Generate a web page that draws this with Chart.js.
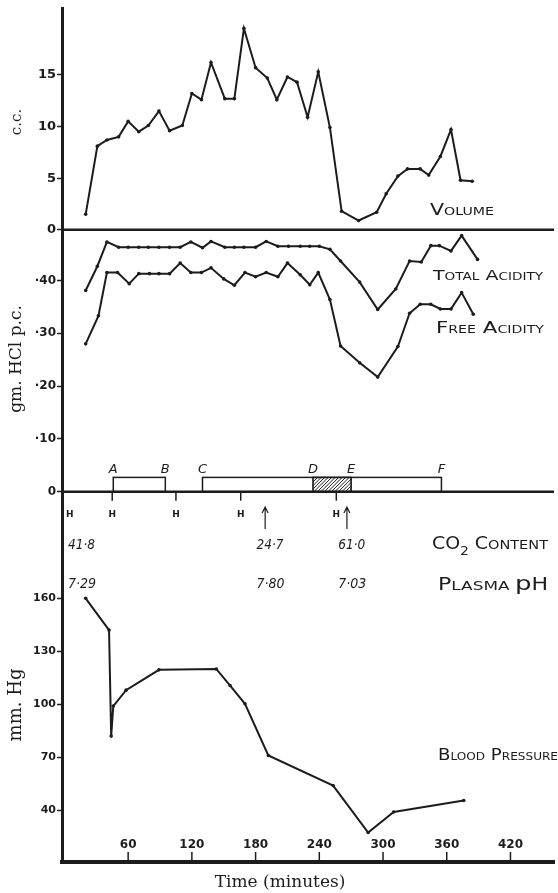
<!DOCTYPE html>
<html>
<head>
<meta charset="utf-8">
<script src="https://cdn.jsdelivr.net/npm/chart.js@4.4.1/dist/chart.umd.min.js"></script>
<style>
  html, body { margin: 0; padding: 0; background: #fff; }
  #wrap { width: 558px; height: 893px; }
</style>
</head>
<body>
<div id="wrap"><canvas id="chart" width="558" height="893"></canvas></div>
<script>
// Gastric secretion record - volume, acidity and blood pressure against time

// Volume of secretion (c.c.)
const volTimes = [20, 31, 40, 51, 60, 70, 79, 89, 99, 111, 120, 129, 138, 151, 160, 169, 180, 191, 200, 210, 219, 229, 239, 250, 261, 277, 294, 303, 314, 323, 335, 343, 354, 364, 373, 384];
const volValues = [1.5, 8.1, 8.7, 9.0, 10.5, 9.5, 10.1, 11.5, 9.6, 10.1, 13.2, 12.6, 16.2, 12.7, 12.7, 19.5, 15.7, 14.7, 12.6, 14.8, 14.3, 10.9, 15.3, 9.9, 1.8, 0.9, 1.7, 3.5, 5.2, 5.9, 5.9, 5.3, 7.1, 9.7, 4.8, 4.7];

// Acidity (gm. HCl p.c.)
const acidTimes = [20, 31, 40, 51, 60, 70, 79, 89, 99, 109, 119, 130, 138, 151, 160, 169, 180, 190, 201, 211, 222, 231, 240, 250, 260, 278, 295, 312, 325, 336, 345, 353, 364, 374, 389];
const totalAcidity = [0.381, 0.427, 0.473, 0.463, 0.463, 0.463, 0.463, 0.463, 0.463, 0.463, 0.473, 0.462, 0.474, 0.463, 0.463, 0.463, 0.463, 0.474, 0.465, 0.465, 0.465, 0.465, 0.465, 0.459, 0.437, 0.397, 0.345, 0.384, 0.437, 0.435, 0.466, 0.466, 0.456, 0.485, 0.44];
const freeTimes = [20, 32, 40, 50, 61, 70, 80, 89, 99, 109, 119, 129, 138, 150, 160, 170, 180, 190, 201, 210, 222, 231, 239, 250, 260, 278, 295, 314, 325, 335, 345, 354, 364, 374, 385];
const freeAcidity = [0.280, 0.333, 0.415, 0.415, 0.394, 0.413, 0.413, 0.413, 0.413, 0.433, 0.415, 0.415, 0.424, 0.403, 0.391, 0.415, 0.407, 0.415, 0.407, 0.433, 0.411, 0.392, 0.415, 0.364, 0.276, 0.244, 0.217, 0.275, 0.338, 0.355, 0.355, 0.346, 0.346, 0.377, 0.336];

// Blood pressure (mm. Hg)
const bpTimes = [20, 42, 44, 46, 58, 89, 143, 156, 170, 192, 253, 286, 310, 376];
const bpValues = [160, 142, 82, 99, 108, 119.5, 120, 110.6, 100.3, 71, 54, 27.4, 39, 45.5];

// Tick labels
const timeTicks = [60, 120, 180, 240, 300, 360, 420];
const volTicks = [0, 5, 10, 15];
const acidTicks = [0, 0.1, 0.2, 0.3, 0.4];
const bpTicks = [40, 70, 100, 130, 160];

// Periods marked under the acidity curves (D-E hatched)
const periodLetters = ['A', 'B', 'C', 'D', 'E', 'F'];
const periodTimes = [46, 95, 130, 234, 270, 355];

// Blood samples
const hTimes = [5, 45, 105, 166, 256];
const arrowTimes = [189, 266];
const sampleTimes = [1.5, 179, 256];
const co2Content = ['41·8', '24·7', '61·0'];
const plasmaPh = ['7·29', '7·80', '7·03'];

const ink = '#1c1c1c';
const hand = '"DejaVu Sans", sans-serif';
const serif = '"DejaVu Serif", "Liberation Serif", serif';

function toPoints(xs, ys) {
    return xs.map((x, i) => ({ x: x, y: ys[i] }));
}

function fixedTicks(values) {
    return function (scale) {
        scale.ticks = values.map(v => ({ value: v }));
    };
}

// draws lettering made of parts [text, size, dy], stretched to a width
function lettering(ctx, parts, x, y, width, italic) {
    let natural = 0;
    const sized = parts.map(p => {
        ctx.font = (italic ? 'italic ' : '') + p[1] + 'px ' + hand;
        const w = ctx.measureText(p[0]).width;
        natural += w;
        return { text: p[0], size: p[1], dy: p[2] || 0, w: w };
    });
    ctx.save();
    ctx.translate(x, y);
    ctx.scale(width / natural, 1);
    let cx = 0;
    sized.forEach(p => {
        ctx.font = (italic ? 'italic ' : '') + p.size + 'px ' + hand;
        ctx.fillText(p.text, cx, p.dy);
        cx += p.w;
    });
    ctx.restore();
}

function smallCaps(text, big, small) {
    const parts = [];
    text.split(' ').forEach((word, i) => {
        parts.push([(i > 0 ? ' ' : '') + word[0], big]);
        parts.push([word.slice(1), small]);
    });
    return parts;
}

const annotations = {
    id: 'annotations',
    afterDatasetsDraw(chart) {
        const ctx = chart.ctx;
        const x = chart.scales.x;
        const vol = chart.scales.vol;
        const acid = chart.scales.acid;
        const area = chart.chartArea;
        ctx.save();
        ctx.strokeStyle = ink;
        ctx.fillStyle = ink;
        ctx.textBaseline = 'alphabetic';

        // panel dividers
        ctx.lineWidth = 2.5;
        [vol.getPixelForValue(0), acid.getPixelForValue(0)].forEach(py => {
            ctx.beginPath();
            ctx.moveTo(area.left, py);
            ctx.lineTo(area.right, py);
            ctx.stroke();
        });

        // period boxes
        const boxBottom = acid.getPixelForValue(0);
        const boxTop = acid.getPixelForValue(0.027);
        const px = periodTimes.map(t => x.getPixelForValue(t));
        ctx.lineWidth = 1.5;
        ctx.strokeRect(px[0], boxTop, px[1] - px[0], boxBottom - boxTop);
        ctx.strokeRect(px[2], boxTop, px[5] - px[2], boxBottom - boxTop);
        ctx.save();
        ctx.beginPath();
        ctx.rect(px[3], boxTop, px[4] - px[3], boxBottom - boxTop);
        ctx.clip();
        ctx.lineWidth = 1;
        for (let s = px[3] - 20; s < px[4] + 20; s += 3.5) {
            ctx.moveTo(s, boxBottom);
            ctx.lineTo(s + (boxBottom - boxTop), boxTop);
        }
        ctx.stroke();
        ctx.restore();
        ctx.strokeRect(px[3], boxTop, px[4] - px[3], boxBottom - boxTop);
        ctx.textAlign = 'center';
        ctx.font = 'italic 13px ' + hand;
        periodLetters.forEach((l, i) => ctx.fillText(l, px[i], boxTop - 4));

        // sample marks
        ctx.font = 'bold 9px ' + hand;
        ctx.lineWidth = 1.5;
        hTimes.forEach((t, i) => {
            const hx = x.getPixelForValue(t);
            if (i > 0) {
                ctx.beginPath();
                ctx.moveTo(hx, boxBottom);
                ctx.lineTo(hx, boxBottom + 9);
                ctx.stroke();
            }
            ctx.fillText('H', hx, 517);
        });
        ctx.lineWidth = 1.2;
        arrowTimes.forEach(t => {
            const ax = x.getPixelForValue(t);
            ctx.beginPath();
            ctx.moveTo(ax, 529);
            ctx.lineTo(ax, 508);
            ctx.moveTo(ax - 3, 513);
            ctx.lineTo(ax, 507);
            ctx.lineTo(ax + 3, 513);
            ctx.stroke();
        });
        ctx.textAlign = 'left';
        ctx.font = 'italic 13px ' + hand;
        sampleTimes.forEach((t, i) => {
            const sx = x.getPixelForValue(t);
            lettering(ctx, [[co2Content[i], 14]], sx + 2, 549, 27, true);
            lettering(ctx, [[plasmaPh[i], 14]], sx + 2, 588, 28, true);
        });

        // series labels
        lettering(ctx, smallCaps('VOLUME', 16, 11), 430, 215, 64);
        lettering(ctx, smallCaps('TOTAL ACIDITY', 14, 10), 433, 280, 110);
        lettering(ctx, smallCaps('FREE ACIDITY', 15, 10), 436, 333, 108);
        lettering(ctx, smallCaps('BLOOD PRESSURE', 15, 10), 438, 760, 120);
        lettering(ctx, [['CO', 17], ['2', 12, 6], [' C', 17], ['ONTENT', 13]], 432, 549, 116);
        lettering(ctx, [['P', 17], ['LASMA ', 13], ['p', 20], ['H', 17]], 438, 590, 110);

        // time ticks inside the bottom axis
        ctx.textAlign = 'center';
        ctx.font = 'bold 12px ' + hand;
        ctx.lineWidth = 1.5;
        timeTicks.forEach(t => {
            const tx = x.getPixelForValue(t);
            ctx.beginPath();
            ctx.moveTo(tx, area.bottom);
            ctx.lineTo(tx, area.bottom - 10);
            ctx.stroke();
            ctx.fillText(String(t), tx, area.bottom - 14);
        });

        // axis titles
        ctx.font = '17px ' + serif;
        ctx.fillText('Time (minutes)', 280, 887);
        [['c.c.', 122, 15], ['gm. HCl p.c.', 359, 17], ['mm. Hg', 705, 18]].forEach(a => {
            ctx.save();
            ctx.translate(21, a[1]);
            ctx.rotate(-Math.PI / 2);
            ctx.font = a[2] + 'px ' + serif;
            ctx.fillText(a[0], 0, 0);
            ctx.restore();
        });
        ctx.restore();
    }
};

const lineStyle = {
    borderColor: ink,
    backgroundColor: ink,
    borderWidth: 2,
    pointRadius: 1.8,
    pointBackgroundColor: ink,
    pointBorderWidth: 0,
    tension: 0,
    fill: false
};

function yAxis(min, max, ticks, weight, size, format) {
    return {
        type: 'linear',
        position: 'left',
        stack: 'panels',
        stackWeight: weight,
        min: min,
        max: max,
        afterBuildTicks: fixedTicks(ticks),
        afterFit(scale) { scale.width = 62; },
        border: { color: ink, width: 3 },
        grid: { drawOnChartArea: false, drawTicks: true, tickLength: 5, tickColor: ink, tickWidth: 1.5 },
        ticks: {
            color: ink,
            padding: 1,
            font: { family: 'DejaVu Sans', size: size, weight: 'bold' },
            callback: format
        }
    };
}

new Chart(document.getElementById('chart'), {
    type: 'line',
    data: {
        datasets: [
            Object.assign({ label: 'Volume', data: toPoints(volTimes, volValues), yAxisID: 'vol' }, lineStyle),
            Object.assign({ label: 'Total Acidity', data: toPoints(acidTimes, totalAcidity), yAxisID: 'acid' }, lineStyle),
            Object.assign({ label: 'Free Acidity', data: toPoints(freeTimes, freeAcidity), yAxisID: 'acid' }, lineStyle),
            Object.assign({ label: 'Blood Pressure', data: toPoints(bpTimes, bpValues), yAxisID: 'bp' }, lineStyle)
        ]
    },
    options: {
        responsive: false,
        animation: false,
        devicePixelRatio: 1,
        layout: { padding: { top: 5, right: 0, left: 0, bottom: 0 } },
        plugins: { legend: { display: false }, tooltip: { enabled: false } },
        scales: {
            x: {
                type: 'linear',
                min: -2.3,
                max: 461,
                afterFit(scale) { scale.height = 31; },
                border: { color: ink, width: 4 },
                grid: { display: false },
                ticks: { display: false }
            },
            bp: yAxis(10.7, 220.4, bpTicks, 372, 11, v => String(v)),
            acid: yAxis(0, 0.496, acidTicks, 263, 12, v => v === 0 ? '0' : '·' + Math.round(v * 100)),
            vol: yAxis(0, 21.4, volTicks, 222, 13, v => String(v))
        }
    },
    plugins: [annotations]
});
</script>
</body>
</html>
